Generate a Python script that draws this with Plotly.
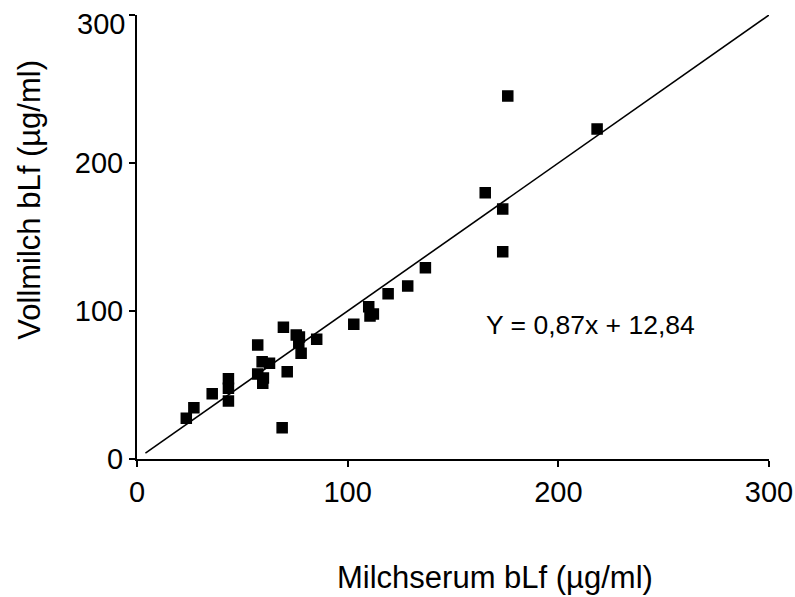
import plotly.graph_objects as go

# Data
milchserum = [23.4, 27.0, 35.7, 43.4, 43.4, 43.4, 57.3, 57.3, 59.4, 60.0, 59.7, 62.9,
              69.5, 68.9, 71.3, 75.6, 77.1, 76.8, 77.9, 85.3, 102.9, 110.0, 110.6,
              112.2, 119.2, 128.5, 136.9, 165.3, 173.6, 173.6, 176.0, 218.4]
vollmilch = [27.5, 34.7, 44.1, 54.3, 47.8, 39.2, 77.0, 57.4, 65.7, 54.7, 51.1, 64.7,
             89.0, 21.1, 59.0, 83.8, 82.4, 78.6, 71.4, 80.9, 91.0, 102.9, 96.6,
             98.0, 111.7, 116.9, 129.3, 179.9, 168.9, 140.1, 245.3, 223.0]
line_x = [4, 300]
line_y = [4, 300]
tick_vals = [0, 100, 200, 300]
tick_text = ["0", "100", "200", "300"]
equation = "Y = 0,87x + 12,84"
x_title = "Milchserum bLf (µg/ml)"
y_title = "Vollmilch bLf (µg/ml)"

FONT = "Liberation Sans, Arial, Helvetica, sans-serif"
TICKSIZE = 29

fig = go.Figure()
fig.add_trace(go.Scatter(x=line_x, y=line_y, mode="lines",
                         line=dict(color="black", width=1.6), showlegend=False,
                         hoverinfo="skip", cliponaxis=False))
fig.add_trace(go.Scatter(x=milchserum, y=vollmilch, mode="markers",
                         marker=dict(symbol="square", size=10, color="black",
                                     line=dict(color="black", width=1.5)),
                         showlegend=False))

axis_common = dict(range=[0, 300], showgrid=False, zeroline=False,
                   showline=True, linecolor="black", linewidth=2, ticks="outside",
                   ticklen=6, tickwidth=2, tickcolor="black", automargin=False,
                   ticklabeloverflow="allow",
                   tickfont=dict(family=FONT, size=TICKSIZE, color="black"))

# top y tick label sits a little lower in the reference; draw it as text next to its tick
y_ticktext = tick_text[:-1] + [""]

fig.update_layout(
    width=795, height=597,
    margin=dict(l=137, r=26, t=15, b=138),
    plot_bgcolor="white", paper_bgcolor="white",
    xaxis=dict(**axis_common, tickvals=tick_vals, ticktext=tick_text),
    yaxis=dict(**axis_common, tickvals=tick_vals, ticktext=y_ticktext),
    font=dict(family=FONT, color="black"),
)
fig.add_annotation(x=0, y=tick_vals[-1], xref="x", yref="y", text=tick_text[-1],
                   showarrow=False, xanchor="right", yanchor="middle",
                   xshift=-10, yshift=-9,
                   font=dict(family=FONT, size=TICKSIZE, color="black"))
fig.add_annotation(x=215.2, y=90.5, xref="x", yref="y", text=equation, showarrow=False,
                   xanchor="center", yanchor="middle",
                   font=dict(family=FONT, size=26.5, color="black"))
fig.add_annotation(x=0.567, y=-0.266, xref="paper", yref="paper", text=x_title,
                   showarrow=False, xanchor="center", yanchor="middle",
                   font=dict(family=FONT, size=31, color="black"))
fig.add_annotation(x=-0.170, y=0.583, xref="paper", yref="paper", text=y_title,
                   textangle=-90, showarrow=False, xanchor="center", yanchor="middle",
                   font=dict(family=FONT, size=31, color="black"))

fig.write_html("out.html")
